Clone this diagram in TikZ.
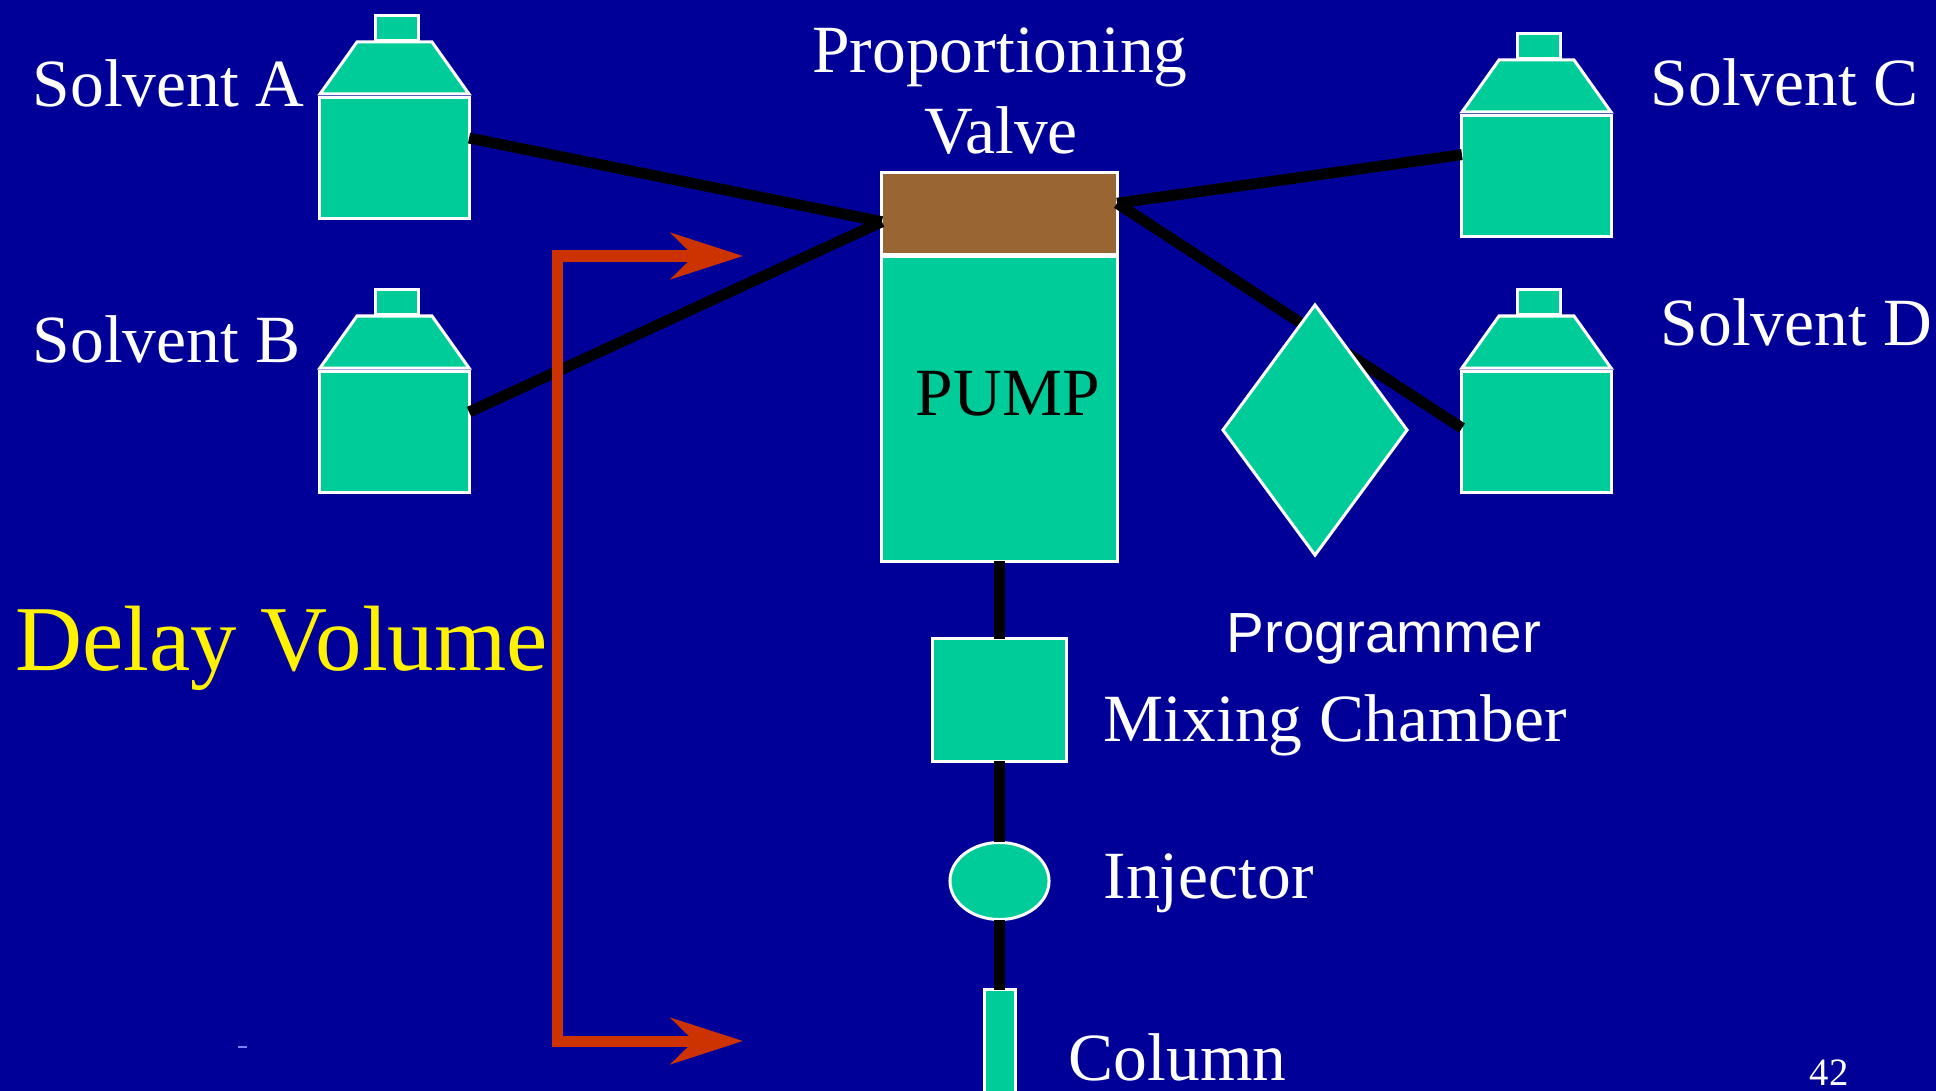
\documentclass[tikz,border=0pt]{standalone}
\usepackage{fontspec}
\setmainfont{Liberation Serif}
\newfontfamily\armfont{Liberation Sans}
\usetikzlibrary{positioning,arrows.meta,shapes.geometric}
\definecolor{slidebg}{HTML}{000099}
\definecolor{unitfill}{HTML}{00CC99}
\definecolor{valvefill}{HTML}{996633}
\definecolor{delayred}{HTML}{CC3300}
\tikzset{
  unit/.style={draw=white, fill=unitfill, line width=.03cm, inner sep=0, outer sep=0},
  tube/.style={line width=.11cm, black},
  delayline/.style={line width=.11cm, delayred, {Stealth[length=.72cm,width=.46cm,inset=.23cm]}-{Stealth[length=.72cm,width=.46cm,inset=.23cm]}, line join=miter},
  slidetext/.style={white, anchor=base west, inner sep=0, font=\fontsize{19.2}{19.2}\selectfont}
}
\begin{document}
\begin{tikzpicture}[x=.01cm, y=-.01cm]
    \fill[slidebg] (0,0) rectangle (1936,1091);
    \useasboundingbox (0,0) rectangle (1936,1091);
    % the four solvent bottles
    \foreach \dx/\dy/\name in {0/0/A,0/274/B,1142/18/C,1142/274/D}{
        \begin{scope}[shift={(\dx,\dy)}]
            \node[unit, minimum width=1.49cm, minimum height=1.2cm] (body\name) at (394.5,158) {};
            \node[unit, minimum width=.43cm, minimum height=.25cm] (cap\name) at (397,28) {};
            \path[unit] (357,42) -- (432,42) -- (469,94) -- (320,94) -- cycle;
        \end{scope}
    }
    \node[unit, fill=valvefill, minimum width=2.35cm, minimum height=.81cm] (valve) at (999.5,213.5) {};
    \node[unit, minimum width=2.35cm, minimum height=3.04cm] (pump) at (999.5,409) {};
    \node[unit, minimum width=1.33cm, minimum height=1.22cm] (mixer) at (999.5,700) {};
    \node[unit, ellipse, minimum width=.99cm, minimum height=.77cm] (injector) at (999.5,881) {};
    \node[unit, minimum width=.31cm, minimum height=1.3cm] (column) at (999.5,1055) {};
    \draw[tube] (bodyA.15) -- (valve.184);
    \draw[tube] (bodyB.15) -- (valve.184);
    \draw[tube] (valve.5) -- (bodyC.164);
    \draw[tube] (valve.5) -- (bodyD.177);
    \draw[tube] (pump.south) -- (mixer.north);
    \draw[tube] (mixer.south) -- (injector.north);
    \draw[tube] (injector.south) -- (column.north);
    \node[unit, diamond, aspect=.74, minimum width=1.84cm, minimum height=2.5cm] (programmer) at (1315,430) {};
    % delay volume bracket
    \coordinate (delayTop) at (743,256);
    \coordinate (cornerTop) at (557,256);
    \coordinate (cornerBot) at (557,1041);
    \coordinate (delayBot) at (743,1041);
    \draw[delayline] (delayTop) -- (cornerTop) -- (cornerBot) -- (delayBot);
    \draw[line width=.3pt, blue!50!white] (238,1047) -- (247,1047);
    \foreach \x/\y/\name in {32/107/Solvent A,32/363/Solvent B,1650/106/Solvent C,1660/346/Solvent D,1103/741/Mixing Chamber,1103/898/Injector,1068/1080/Column}{
        \node[slidetext] (txt\name) at (\x,\y) {\name};
    }
    \node[slidetext, anchor=base] (txtProp) at (1000,73) {Proportioning};
    \node[slidetext, anchor=base] (txtValve) at (1001,154) {Valve};
    \node[slidetext, black] (txtPump) at (915,415) {PUMP};
    \node[slidetext, yellow, font=\fontsize{26.4}{26.4}\selectfont] (txtDelay) at (15,670) {Delay Volume};
    \node[slidetext, font=\armfont\fontsize{16.1}{16.1}\selectfont] (txtProg) at (1226,652) {Programmer};
    \node[slidetext, font=\fontsize{11}{11}\selectfont] (txtPage) at (1809,1085) {42};
\end{tikzpicture}
\end{document}
